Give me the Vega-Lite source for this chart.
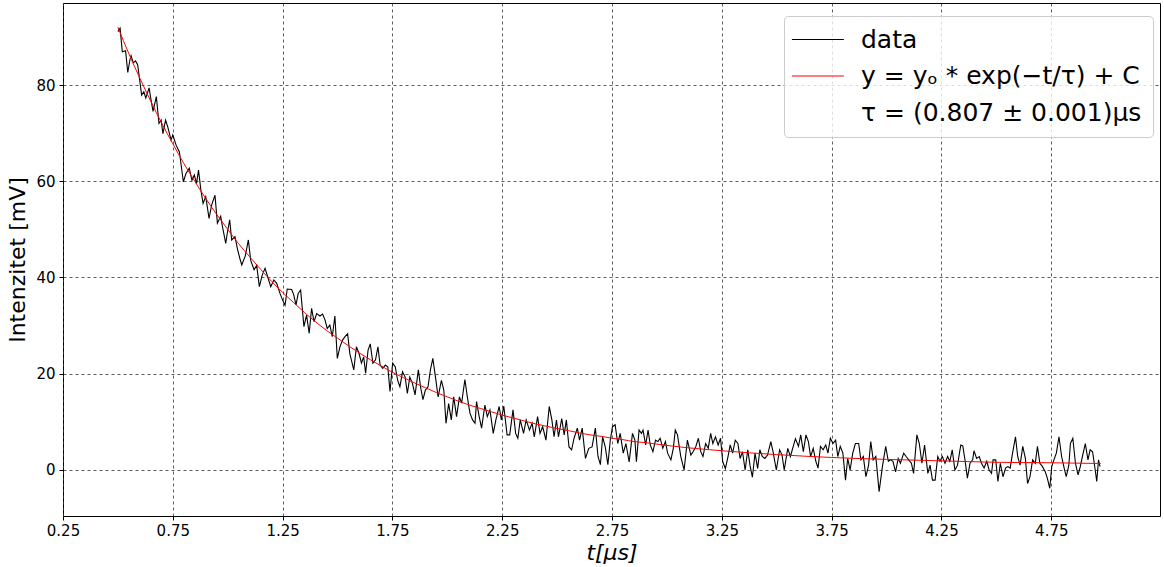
{
"$schema": "https://vega.github.io/schema/vega-lite/v6.json",
"width": 1097, "height": 513,
"autosize": {"type": "none"},
"padding": {"left": 63, "top": 3, "right": 4, "bottom": 51},
"background": "white",
"config": {"view": {"stroke": "black", "strokeWidth": 1}, "font": "DejaVu Sans"},
"datasets": {
"meas": [
{"t":0.500,"y":91.1},{"t":0.510,"y":91.8},{"t":0.520,"y":86.9},{"t":0.535,"y":87.1},{"t":0.545,"y":82.6},{"t":0.555,"y":85.3},{"t":0.560,"y":86.1},{"t":0.570,"y":84.6},{"t":0.580,"y":85.0},{"t":0.590,"y":84.2},
{"t":0.608,"y":77.9},{"t":0.618,"y":78.6},{"t":0.627,"y":77.3},{"t":0.642,"y":79.4},{"t":0.652,"y":76.6},{"t":0.660,"y":74.5},{"t":0.675,"y":77.6},{"t":0.687,"y":72.0},{"t":0.697,"y":72.7},{"t":0.705,"y":69.9},
{"t":0.717,"y":72.7},{"t":0.727,"y":71.3},{"t":0.742,"y":68.6},{"t":0.750,"y":69.6},{"t":0.765,"y":67.5},{"t":0.780,"y":66.1},{"t":0.798,"y":59.9},{"t":0.810,"y":61.6},{"t":0.825,"y":62.7},{"t":0.837,"y":60.2},
{"t":0.848,"y":61.3},{"t":0.858,"y":59.5},{"t":0.867,"y":62.3},{"t":0.878,"y":58.1},{"t":0.888,"y":55.4},{"t":0.900,"y":56.8},{"t":0.915,"y":52.3},{"t":0.927,"y":55.1},{"t":0.942,"y":57.1},{"t":0.953,"y":51.3},
{"t":0.968,"y":52.7},{"t":0.976,"y":50.6},{"t":0.991,"y":47.1},{"t":0.998,"y":49.2},{"t":1.009,"y":52.0},{"t":1.018,"y":47.8},{"t":1.033,"y":48.5},{"t":1.044,"y":46.0},{"t":1.055,"y":44.0},{"t":1.064,"y":42.6},
{"t":1.080,"y":44.5},{"t":1.094,"y":47.8},{"t":1.105,"y":43.5},{"t":1.120,"y":41.6},{"t":1.132,"y":42.5},{"t":1.144,"y":38.1},{"t":1.157,"y":40.5},{"t":1.170,"y":41.9},{"t":1.183,"y":40.0},{"t":1.196,"y":38.1},
{"t":1.210,"y":39.5},{"t":1.223,"y":38.8},{"t":1.238,"y":36.7},{"t":1.250,"y":35.3},{"t":1.261,"y":34.2},{"t":1.271,"y":37.6},{"t":1.291,"y":37.5},{"t":1.300,"y":36.5},{"t":1.311,"y":34.3},{"t":1.321,"y":36.7},
{"t":1.332,"y":37.4},{"t":1.347,"y":29.8},{"t":1.359,"y":32.2},{"t":1.371,"y":28.4},{"t":1.382,"y":33.6},{"t":1.393,"y":30.8},{"t":1.405,"y":32.5},{"t":1.420,"y":32.0},{"t":1.432,"y":32.4},{"t":1.443,"y":31.2},
{"t":1.453,"y":29.4},{"t":1.465,"y":30.1},{"t":1.476,"y":27.7},{"t":1.488,"y":32.0},{"t":1.499,"y":23.2},{"t":1.511,"y":25.6},{"t":1.523,"y":27.0},{"t":1.534,"y":27.7},{"t":1.546,"y":28.3},{"t":1.556,"y":24.2},
{"t":1.574,"y":20.8},{"t":1.586,"y":25.6},{"t":1.598,"y":24.2},{"t":1.609,"y":22.2},{"t":1.619,"y":23.5},{"t":1.628,"y":20.1},{"t":1.639,"y":24.9},{"t":1.649,"y":26.2},{"t":1.661,"y":22.2},{"t":1.673,"y":22.9},
{"t":1.684,"y":25.6},{"t":1.694,"y":21.8},{"t":1.706,"y":21.1},{"t":1.718,"y":21.8},{"t":1.729,"y":21.4},{"t":1.739,"y":16.3},{"t":1.751,"y":22.2},{"t":1.763,"y":21.4},{"t":1.774,"y":18.6},{"t":1.784,"y":17.3},
{"t":1.796,"y":20.4},{"t":1.808,"y":19.3},{"t":1.818,"y":15.9},{"t":1.829,"y":19.3},{"t":1.841,"y":18.0},{"t":1.853,"y":15.6},{"t":1.868,"y":20.8},{"t":1.878,"y":17.3},{"t":1.889,"y":14.6},{"t":1.900,"y":16.6},
{"t":1.912,"y":17.3},{"t":1.923,"y":20.8},{"t":1.934,"y":23.2},{"t":1.946,"y":19.3},{"t":1.958,"y":15.2},{"t":1.973,"y":18.6},{"t":1.984,"y":16.6},{"t":1.994,"y":9.7},{"t":2.006,"y":13.8},{"t":2.018,"y":10.4},
{"t":2.029,"y":15.2},{"t":2.042,"y":11.1},{"t":2.055,"y":15.2},{"t":2.065,"y":13.9},{"t":2.080,"y":18.8},{"t":2.091,"y":15.2},{"t":2.103,"y":11.8},{"t":2.115,"y":10.4},{"t":2.126,"y":9.7},{"t":2.133,"y":14.2},
{"t":2.145,"y":11.1},{"t":2.156,"y":8.7},{"t":2.171,"y":13.5},{"t":2.182,"y":11.1},{"t":2.194,"y":12.5},{"t":2.209,"y":7.6},{"t":2.221,"y":10.4},{"t":2.236,"y":13.2},{"t":2.246,"y":10.4},{"t":2.257,"y":13.3},
{"t":2.272,"y":7.3},{"t":2.284,"y":7.3},{"t":2.299,"y":12.5},{"t":2.311,"y":7.6},{"t":2.321,"y":6.6},{"t":2.332,"y":10.4},{"t":2.347,"y":7.6},{"t":2.359,"y":10.4},{"t":2.374,"y":8.3},{"t":2.386,"y":9.7},
{"t":2.396,"y":6.9},{"t":2.411,"y":11.1},{"t":2.422,"y":7.6},{"t":2.434,"y":9.0},{"t":2.449,"y":6.2},{"t":2.464,"y":13.2},{"t":2.476,"y":10.4},{"t":2.486,"y":6.9},{"t":2.497,"y":10.4},{"t":2.506,"y":6.9},
{"t":2.521,"y":10.7},{"t":2.532,"y":7.3},{"t":2.542,"y":10.4},{"t":2.554,"y":4.8},{"t":2.566,"y":4.2},{"t":2.577,"y":6.6},{"t":2.592,"y":8.7},{"t":2.602,"y":6.2},{"t":2.614,"y":8.7},{"t":2.629,"y":2.4},
{"t":2.644,"y":4.5},{"t":2.659,"y":4.8},{"t":2.674,"y":8.7},{"t":2.686,"y":2.8},{"t":2.697,"y":1.1},{"t":2.707,"y":6.9},{"t":2.719,"y":4.8},{"t":2.731,"y":1.1},{"t":2.742,"y":6.2},{"t":2.752,"y":9.0},
{"t":2.764,"y":9.4},{"t":2.776,"y":5.5},{"t":2.787,"y":7.6},{"t":2.801,"y":3.5},{"t":2.813,"y":5.5},{"t":2.828,"y":1.7},{"t":2.843,"y":7.6},{"t":2.854,"y":6.2},{"t":2.861,"y":1.7},{"t":2.873,"y":8.3},
{"t":2.884,"y":7.6},{"t":2.891,"y":8.3},{"t":2.903,"y":5.2},{"t":2.914,"y":8.3},{"t":2.924,"y":5.2},{"t":2.936,"y":3.8},{"t":2.948,"y":6.2},{"t":2.959,"y":5.9},{"t":2.969,"y":6.6},{"t":2.981,"y":4.5},
{"t":2.993,"y":5.9},{"t":3.003,"y":3.5},{"t":3.018,"y":2.1},{"t":3.029,"y":4.5},{"t":3.038,"y":8.3},{"t":3.048,"y":7.3},{"t":3.063,"y":2.8},{"t":3.078,"y":0.0},{"t":3.093,"y":6.2},{"t":3.109,"y":3.1},
{"t":3.119,"y":3.8},{"t":3.131,"y":4.8},{"t":3.143,"y":6.6},{"t":3.154,"y":3.8},{"t":3.164,"y":2.8},{"t":3.176,"y":5.5},{"t":3.188,"y":4.5},{"t":3.199,"y":7.6},{"t":3.209,"y":5.5},{"t":3.221,"y":6.9},
{"t":3.233,"y":5.2},{"t":3.244,"y":6.6},{"t":3.254,"y":1.7},{"t":3.266,"y":0.3},{"t":3.278,"y":2.8},{"t":3.288,"y":5.2},{"t":3.299,"y":3.5},{"t":3.311,"y":6.2},{"t":3.323,"y":5.5},{"t":3.333,"y":2.4},
{"t":3.344,"y":3.8},{"t":3.356,"y":0.0},{"t":3.368,"y":4.2},{"t":3.378,"y":1.0},{"t":3.389,"y":-1.5},{"t":3.401,"y":3.5},{"t":3.413,"y":0.3},{"t":3.423,"y":4.2},{"t":3.434,"y":2.8},{"t":3.446,"y":2.4},
{"t":3.458,"y":3.1},{"t":3.473,"y":5.9},{"t":3.483,"y":3.8},{"t":3.498,"y":0.0},{"t":3.513,"y":4.2},{"t":3.524,"y":3.1},{"t":3.534,"y":0.0},{"t":3.550,"y":4.5},{"t":3.562,"y":2.8},{"t":3.585,"y":6.5},
{"t":3.599,"y":4.9},{"t":3.609,"y":7.3},{"t":3.621,"y":3.8},{"t":3.633,"y":7.3},{"t":3.644,"y":5.9},{"t":3.654,"y":2.8},{"t":3.666,"y":4.5},{"t":3.678,"y":1.8},{"t":3.688,"y":0.4},{"t":3.699,"y":4.9},
{"t":3.711,"y":4.2},{"t":3.723,"y":5.2},{"t":3.733,"y":3.5},{"t":3.744,"y":6.6},{"t":3.756,"y":5.5},{"t":3.768,"y":6.2},{"t":3.778,"y":2.8},{"t":3.789,"y":4.9},{"t":3.801,"y":3.5},{"t":3.813,"y":-2.1},
{"t":3.823,"y":2.4},{"t":3.834,"y":0.0},{"t":3.846,"y":3.5},{"t":3.858,"y":5.5},{"t":3.873,"y":5.5},{"t":3.883,"y":2.1},{"t":3.894,"y":2.8},{"t":3.906,"y":-1.4},{"t":3.918,"y":1.0},{"t":3.928,"y":5.9},
{"t":3.939,"y":2.1},{"t":3.951,"y":2.8},{"t":3.966,"y":-4.5},{"t":3.981,"y":0.7},{"t":3.996,"y":4.9},{"t":4.008,"y":1.8},{"t":4.018,"y":2.1},{"t":4.029,"y":1.8},{"t":4.041,"y":-0.4},{"t":4.053,"y":2.4},
{"t":4.063,"y":1.4},{"t":4.078,"y":3.5},{"t":4.089,"y":2.8},{"t":4.101,"y":2.1},{"t":4.113,"y":1.4},{"t":4.123,"y":-0.7},{"t":4.138,"y":7.3},{"t":4.149,"y":5.5},{"t":4.161,"y":1.4},{"t":4.173,"y":5.2},
{"t":4.188,"y":-0.7},{"t":4.198,"y":1.0},{"t":4.209,"y":-2.1},{"t":4.221,"y":-2.1},{"t":4.233,"y":2.8},{"t":4.243,"y":1.8},{"t":4.254,"y":2.8},{"t":4.266,"y":1.4},{"t":4.278,"y":2.8},{"t":4.288,"y":1.8},
{"t":4.299,"y":4.2},{"t":4.311,"y":0.0},{"t":4.323,"y":1.0},{"t":4.338,"y":5.2},{"t":4.347,"y":5.0},{"t":4.357,"y":2.1},{"t":4.368,"y":-1.7},{"t":4.380,"y":1.4},{"t":4.392,"y":2.1},{"t":4.398,"y":4.0},
{"t":4.410,"y":2.4},{"t":4.422,"y":2.8},{"t":4.432,"y":1.4},{"t":4.444,"y":0.4},{"t":4.456,"y":1.8},{"t":4.467,"y":0.0},{"t":4.478,"y":-0.7},{"t":4.485,"y":2.1},{"t":4.497,"y":2.1},{"t":4.507,"y":-2.4},
{"t":4.518,"y":1.4},{"t":4.530,"y":-1.4},{"t":4.542,"y":0.4},{"t":4.552,"y":0.7},{"t":4.563,"y":0.4},{"t":4.572,"y":3.1},{"t":4.587,"y":6.9},{"t":4.597,"y":2.8},{"t":4.608,"y":1.0},{"t":4.620,"y":4.9},
{"t":4.632,"y":2.4},{"t":4.642,"y":-2.8},{"t":4.653,"y":-1.4},{"t":4.665,"y":2.1},{"t":4.677,"y":1.4},{"t":4.687,"y":4.9},{"t":4.698,"y":1.4},{"t":4.710,"y":0.7},{"t":4.722,"y":-0.3},{"t":4.732,"y":-1.7},
{"t":4.743,"y":-3.8},{"t":4.752,"y":0.7},{"t":4.762,"y":2.1},{"t":4.773,"y":3.5},{"t":4.785,"y":6.9},{"t":4.797,"y":2.8},{"t":4.807,"y":0.7},{"t":4.818,"y":-1.4},{"t":4.830,"y":1.0},{"t":4.837,"y":5.5},
{"t":4.848,"y":6.6},{"t":4.860,"y":1.4},{"t":4.872,"y":-1.0},{"t":4.882,"y":0.7},{"t":4.893,"y":3.1},{"t":4.905,"y":5.5},{"t":4.917,"y":2.1},{"t":4.927,"y":4.2},{"t":4.938,"y":3.8},{"t":4.950,"y":0.0},
{"t":4.957,"y":-2.4},{"t":4.965,"y":2.1},{"t":4.972,"y":0.7}
],
"fit": [
{"t":0.50,"y":92.0},{"t":0.55,"y":86.5},{"t":0.60,"y":81.4},{"t":0.65,"y":76.6},{"t":0.70,"y":72.0},{"t":0.75,"y":67.8},{"t":0.80,"y":63.7},{"t":0.85,"y":60.0},{"t":0.90,"y":56.4},{"t":0.95,"y":53.1},
{"t":1.00,"y":50.0},{"t":1.05,"y":47.0},{"t":1.10,"y":44.3},{"t":1.15,"y":41.7},{"t":1.20,"y":39.2},{"t":1.25,"y":36.9},{"t":1.30,"y":34.8},{"t":1.35,"y":32.7},{"t":1.40,"y":30.8},{"t":1.45,"y":29.0},
{"t":1.50,"y":27.4},{"t":1.55,"y":25.8},{"t":1.60,"y":24.3},{"t":1.65,"y":22.9},{"t":1.70,"y":21.6},{"t":1.75,"y":20.3},{"t":1.80,"y":19.2},{"t":1.85,"y":18.1},{"t":1.90,"y":17.1},{"t":1.95,"y":16.1},
{"t":2.00,"y":15.2},{"t":2.05,"y":14.3},{"t":2.10,"y":13.5},{"t":2.15,"y":12.8},{"t":2.20,"y":12.1},{"t":2.25,"y":11.4},{"t":2.30,"y":10.8},{"t":2.35,"y":10.2},{"t":2.40,"y":9.6},{"t":2.45,"y":9.1},
{"t":2.50,"y":8.6},{"t":2.55,"y":8.2},{"t":2.60,"y":7.7},{"t":2.65,"y":7.3},{"t":2.70,"y":7.0},{"t":2.75,"y":6.6},{"t":2.80,"y":6.3},{"t":2.85,"y":5.9},{"t":2.90,"y":5.7},{"t":2.95,"y":5.4},
{"t":3.00,"y":5.1},{"t":3.25,"y":4.0},{"t":3.50,"y":3.2},{"t":3.75,"y":2.6},{"t":4.00,"y":2.2},{"t":4.25,"y":1.9},{"t":4.50,"y":1.6},{"t":4.75,"y":1.5},{"t":4.975,"y":1.35}
]
},
"layer": [
{
"data": {"name": "meas"},
"mark": {"type": "line", "strokeWidth": 1.1},
"encoding": {
"x": {"field": "t", "type": "quantitative",
"scale": {"domain": [0.25, 5.245], "nice": false, "zero": false},
"axis": {"values": [0.25, 0.75, 1.25, 1.75, 2.25, 2.75, 3.25, 3.75, 4.25, 4.75], "format": ".2f",
"title": "t[μs]", "titleFontSize": 22, "titleFontStyle": "italic", "titleFontWeight": "normal", "titleColor": "black", "titlePadding": 4,
"labelFontSize": 15, "labelColor": "black", "labelPadding": 3, "labelFlush": false, "tickSize": 4, "tickColor": "black", "domain": false,
"grid": true, "gridColor": "#333333", "gridDash": [3, 3], "gridWidth": 0.8, "gridOpacity": 1}},
"y": {"field": "y", "type": "quantitative",
"scale": {"domain": [-9.56, 97.04], "nice": false, "zero": false},
"axis": {"values": [0, 20, 40, 60, 80], "title": "Intenzitet [mV]", "titleFontSize": 22, "titleFontWeight": "normal", "titleColor": "black", "titlePadding": 6,
"labelFontSize": 15, "labelColor": "black", "labelPadding": 4, "labelFlush": false, "tickSize": 4, "tickColor": "black", "domain": false,
"grid": true, "gridColor": "#333333", "gridDash": [3, 3], "gridWidth": 0.8, "gridOpacity": 1}},
"color": {"datum": "data", "type": "nominal",
"scale": {"domain": ["data", "y = yₒ * exp(−t/τ) + C", "τ = (0.807 ± 0.001)μs"], "range": ["black", "red", "transparent"]},
"legend": {"orient": "none", "legendX": 721, "legendY": 13, "title": null, "symbolType": "M-3,0H7", "symbolSize": 108,
"symbolStrokeWidth": 1.2, "labelFontSize": 25, "labelFont": "DejaVu Sans", "labelColor": "black", "labelOffset": 41, "rowPadding": 10.5, "padding": 11,
"fillColor": "rgba(255,255,255,0.8)", "strokeColor": "#cccccc", "cornerRadius": 4, "labelLimit": 400,
"encode": {"symbols": {"update": {"stroke": {"signal": "scale('color', datum.value)"}, "fill": {"value": "transparent"}, "opacity": {"value": 1}}}}}}
}
},
{
"data": {"name": "fit"},
"mark": {"type": "line", "strokeWidth": 1, "interpolate": "monotone"},
"encoding": {
"x": {"field": "t", "type": "quantitative"},
"y": {"field": "y", "type": "quantitative"},
"color": {"datum": "y = yₒ * exp(−t/τ) + C", "type": "nominal"}
}
}
]
}
